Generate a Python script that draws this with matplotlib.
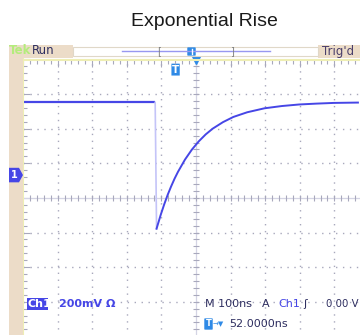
import matplotlib
matplotlib.use('Agg')
import matplotlib.pyplot as plt
from matplotlib.patches import Rectangle, Polygon, FancyBboxPatch
from matplotlib.transforms import blended_transform_factory

# ch1 trace: time from trigger (ns), level (mV)
t_ns = [-454, -66, -62, -50, -40, -30, -20, -10, 0, 20, 40, 60, 80, 100,
        130, 160, 200, 250, 300, 350, 400, 450, 520]
v_mv = [420, 420, -310, -230, -170, -115, -66, -21, 19, 89, 147, 195, 235,
        268, 306, 336, 363, 386, 399, 408, 413, 417, 419]

mv_per_div = 200
ns_per_div = 100
h_delay = 52        # ns at screen centre
ch1_pos = 0.66      # divisions above centre

W, H = 360, 335
TAN = '#ecdcc8'
BLUE = '#4646e6'
AZURE = '#2f8ae6'
GRID = '#a8a8bc'
DARK = '#2e2e60'


def fx(x):
    return x / W


def fy(y):
    return 1 - y / H


fig = plt.figure(figsize=(W / 100, H / 100), dpi=100)
fig.patch.set_facecolor('white')

fig.text(fx(204), fy(22), 'Exponential Rise', ha='center', va='center',
         fontsize=14, family='Liberation Sans', color='#1a1a1a')

# tan frame: left strip + top status bar
fig.patches.append(Rectangle((fx(9), 0), fx(13.5), fy(45), transform=fig.transFigure,
                             facecolor=TAN, edgecolor='none'))
fig.patches.append(Rectangle((fx(9), fy(58)), fx(64), 13 / H, transform=fig.transFigure,
                             facecolor=TAN, edgecolor='none'))
fig.patches.append(Rectangle((fx(318), fy(58)), fx(42), 13 / H, transform=fig.transFigure,
                             facecolor=TAN, edgecolor='none'))
fig.patches.append(Rectangle((fx(73), fy(56)), fx(245), 9 / H, transform=fig.transFigure,
                             facecolor='white', edgecolor='#e0d8c8', lw=0.8))
fig.add_artist(plt.Line2D([fx(122), fx(270)], [fy(51), fy(51)], color='#9898f0', lw=1))
fig.text(fx(159), fy(51), '[', ha='center', va='center', fontsize=7, color='#808080')
fig.text(fx(232), fy(51), ']', ha='center', va='center', fontsize=7, color='#808080')
fig.patches.append(FancyBboxPatch((fx(188), fy(55)), fx(7), 7 / H,
                                  boxstyle='round,pad=0.002', transform=fig.transFigure,
                                  facecolor=AZURE, edgecolor='none'))
fig.add_artist(plt.Line2D([fx(192), fx(192)], [fy(54), fy(49)], color='white', lw=1))

fig.text(fx(9), fy(51), 'Tek', ha='left', va='center', fontsize=8.5,
         fontweight='bold', color='#b4ec7c')
fig.text(fx(32), fy(51), 'Run', ha='left', va='center', fontsize=8.5, color=DARK)
fig.text(fx(322), fy(51), "Trig'd", ha='left', va='center', fontsize=8.5, color='#4a3f6b')

# graticule
div = 34.6
ax = fig.add_axes([fx(23), fy(59.5 + 8 * div), 10 * div / W, 8 * div / H])
x0 = h_delay - 5 * ns_per_div
y0 = -ch1_pos * mv_per_div - 4 * mv_per_div
ax.set_xlim(x0, x0 + 10 * ns_per_div)
ax.set_ylim(y0, y0 + 8 * mv_per_div)
ax.set_facecolor('white')

for k in range(1, 10):
    if k != 5:
        ax.axvline(x0 + k * ns_per_div, color=GRID, lw=1, ls=(0, (1, 4)))
for k in range(1, 8):
    if k != 4:
        ax.axhline(y0 + k * mv_per_div, color=GRID, lw=1, ls=(0, (1, 4)))

xc = x0 + 5 * ns_per_div
yc = y0 + 4 * mv_per_div
ax.axvline(xc, color='#d4d4e4', lw=0.9)
ax.axhline(yc, color='#d4d4e4', lw=0.9)
xm = [x0 + i * ns_per_div / 5 for i in range(1, 50)]
ym = [y0 + i * mv_per_div / 5 for i in range(1, 40)]
ax.plot(xm, [yc] * len(xm), ls='none', marker='|', ms=5, mew=0.8, color=GRID)
ax.plot([xc] * len(ym), ym, ls='none', marker='_', ms=5, mew=0.8, color=GRID)

ax.set_xticks([x0 + k * ns_per_div for k in range(11)])
ax.set_xticks(xm, minor=True)
ax.set_yticks([y0 + k * mv_per_div for k in range(9)])
ax.set_yticks(ym, minor=True)
ax.tick_params(which='both', direction='in', top=True, left=True, bottom=False,
               right=False, labelleft=False, labelbottom=False, color=GRID, width=0.8)
ax.tick_params(which='major', length=5)
ax.tick_params(which='minor', length=3)
for side in ['right', 'bottom']:
    ax.spines[side].set_visible(False)
for side in ['top', 'left']:
    ax.spines[side].set_color('#eeeeb4')
    ax.spines[side].set_linewidth(1.5)

# trace: flat, fast edge (faint), exponential recovery
ax.plot(t_ns[:2], v_mv[:2], color=BLUE, lw=1.6, solid_capstyle='butt')
ax.plot(t_ns[1:3], v_mv[1:3], color='#c4c4f8', lw=1.2)
ax.plot(t_ns[2:], v_mv[2:], color=BLUE, lw=1.4)

# trigger marker at t=0 and centre marker
bt = blended_transform_factory(ax.transData, ax.transAxes)
ax.add_patch(FancyBboxPatch((-19, 0.947), 24, 0.033, boxstyle='round,pad=0.005',
                            transform=bt, facecolor=AZURE, edgecolor='none', clip_on=False))
ax.text(-7, 0.962, 'T', transform=bt, ha='center', va='center', fontsize=7.5,
        fontweight='bold', color='white')
ax.plot([xc], [1.0], marker='v', ms=6, color=AZURE, clip_on=False, transform=bt)

# ch1 ground marker
tr = blended_transform_factory(fig.transFigure, ax.transData)
fig.patches.append(Polygon([(fx(9), 42), (fx(19), 42), (fx(23), 0), (fx(19), -42), (fx(9), -42)],
                           closed=True, transform=tr, facecolor=BLUE, edgecolor='none'))
fig.text(fx(14), 0, '1', transform=tr, ha='center', va='center', fontsize=7,
         fontweight='bold', color='white')

# readouts
fig.patches.append(Rectangle((fx(27), fy(310)), fx(21), 12 / H, transform=fig.transFigure,
                             facecolor=BLUE, edgecolor='none'))
fig.text(fx(28), fy(304), 'Ch1', ha='left', va='center', fontsize=8,
         fontweight='bold', color='white')
fig.text(fx(59), fy(304), '200mV \u03a9', ha='left', va='center', fontsize=8,
         fontweight='bold', color=BLUE)
fig.text(fx(205), fy(304), 'M 100ns', ha='left', va='center', fontsize=8, color=DARK)
fig.text(fx(262), fy(304), 'A', ha='left', va='center', fontsize=8, color=DARK)
fig.text(fx(278), fy(304), 'Ch1', ha='left', va='center', fontsize=8, color=BLUE)
fig.text(fx(303), fy(304), '\u0283', ha='left', va='center', fontsize=8, color=DARK)
fig.text(fx(326), fy(304), '0.00 V', ha='left', va='center', fontsize=7.3, color=DARK)

fig.patches.append(FancyBboxPatch((fx(205), fy(329)), fx(7), 10 / H,
                                  boxstyle='round,pad=0.002', transform=fig.transFigure,
                                  facecolor=AZURE, edgecolor='none'))
fig.text(fx(208.5), fy(324), 'T', ha='center', va='center', fontsize=6,
         fontweight='bold', color='white')
fig.text(fx(213), fy(324), '\u2192\u25bc', ha='left', va='center', fontsize=5, color=AZURE)
fig.text(fx(229), fy(324), '52.0000ns', ha='left', va='center', fontsize=8, color=DARK)

fig.savefig('out.png', dpi=100)
